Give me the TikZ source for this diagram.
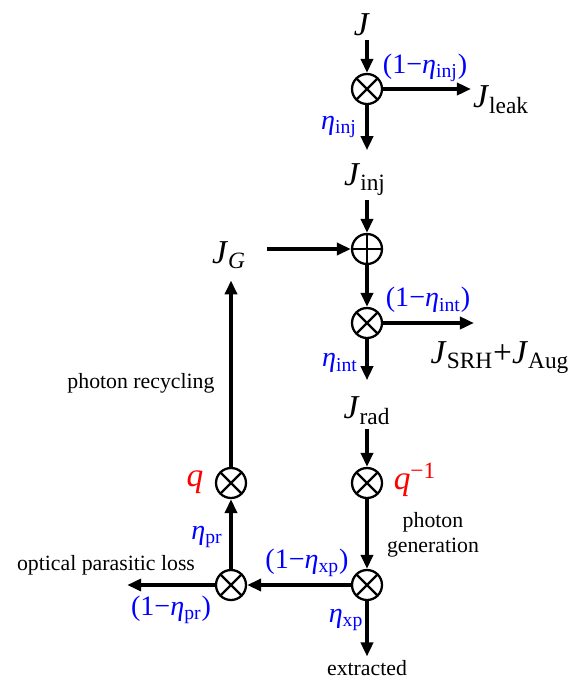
\documentclass[tikz,border=0pt]{standalone}
\usepackage{fontspec}
\setmainfont{Liberation Serif}
\usetikzlibrary{arrows.meta}
\definecolor{etablue}{RGB}{0,0,255}
\definecolor{qred}{RGB}{255,0,0}
\newcommand\Jx[1]{\textit{J}\textsubscript{#1}}
\newcommand\ef[1]{\textit{η}\textsubscript{#1}}
\newcommand\lf[1]{(1−\ef{#1})}
\tikzset{
  mul/.style={circle, draw, line width=1.3pt, minimum size=0.6cm, inner sep=0pt,
              path picture={\draw[line width=1.3pt]
                (path picture bounding box.north west) -- (path picture bounding box.south east)
                (path picture bounding box.north east) -- (path picture bounding box.south west);}},
  sum/.style={circle, draw, line width=1.3pt, minimum size=0.6cm, inner sep=0pt,
              path picture={\draw[line width=1.3pt]
                (path picture bounding box.north) -- (path picture bounding box.south)
                (path picture bounding box.west) -- (path picture bounding box.east);}},
  sig/.style={font=\fontsize{19}{22}\selectfont, inner sep=2pt},
  gain/.style={font=\fontsize{16}{19}\selectfont, text=etablue, inner sep=2pt},
  qlab/.style={font=\fontsize{19}{22}\selectfont, text=qred, inner sep=2pt},
  note/.style={font=\fontsize{12.4}{14.5}\selectfont, align=center, inner sep=2pt},
  flow/.style={-{Triangle[length=0.28cm, width=0.24cm]}, line width=2.2pt},
}
\begin{document}
\begin{tikzpicture}[x=0.02cm, y=-0.02cm]
  \useasboundingbox (0,0) rectangle (574,680);
  % injection
  \node[sig] (J) at (362,25) {\textit{J}};
  \node[mul] (m1) at (367,89) {};
  \node[gain] (l1) at (425,68) {\lf{inj}};
  \node[gain] (e1) at (339,127) {\ef{inj}};
  \node[sig] (Jleak) at (501,100) {\Jx{leak}};
  \node[sig] (Jinj) at (365,180) {\Jx{inj}};
  % generation feedback
  \node[sum] (a1) at (367,249) {};
  \node[sig] (JG) at (229,255) {\textit{J}\textsubscript{\textit{G}}};
  % internal
  \node[mul] (m2) at (367,323) {};
  \node[gain] (l2) at (428,300) {\lf{int}};
  \node[gain] (e2) at (340,363) {\ef{int}};
  \node[sig] (Jnr) at (500,358) {\Jx{SRH}+\Jx{Aug}};
  \node[sig] (Jrad) at (367,411) {\Jx{rad}};
  % photons
  \node[mul] (m3) at (367,483) {};
  \node[qlab] (qi) at (415,480) {\textit{q}\textsuperscript{−1}};
  \node[note] (gen) at (433,535) {photon\\generation};
  \node[mul] (m4) at (367,585) {};
  \node[gain] (e4) at (346,620) {\ef{xp}};
  \node[note] (ext) at (367,668) {extracted};
  \node[mul] (m5) at (231,585) {};
  \node[gain] (l4) at (307,563) {\lf{xp}};
  \node[gain] (l5) at (171,610) {\lf{pr}};
  \node[note] (loss) at (106,565) {optical parasitic loss};
  \node[gain] (e5) at (207,537) {\ef{pr}};
  \node[mul] (m6) at (231,483) {};
  \node[qlab] (q) at (195,482) {\textit{q}};
  \node[note] (rec) at (141,383) {photon recycling};

  \draw[flow] (m1 |- J.south) -- (m1);
  \draw[flow] (m1) -- (m1 -| l1.east);
  \draw[flow, shorten >=0.2cm] (m1) -- (m1 |- Jinj.north);
  \draw[flow] (a1 |- Jinj.south) -- (a1);
  \draw[flow, shorten <=0.34cm] (JG.east |- a1) -- (a1);
  \draw[flow] (a1) -- (m2);
  \draw[flow] (m2) -- (m2 -| l2.east);
  \draw[flow, shorten >=0.26cm] (m2) -- (Jrad);
  \draw[flow] (Jrad) -- (m3);
  \draw[flow] (m3) -- (m4);
  \draw[flow] (m4) -- (ext);
  \draw[flow] (m4) -- (m5);
  \draw[flow] (m5) -- (m5 -| l5.west);
  \draw[flow] (m5) -- (m6);
  \draw[flow, shorten >=0.16cm] (m6) -- (m6 |- JG.south);
\end{tikzpicture}
\end{document}
